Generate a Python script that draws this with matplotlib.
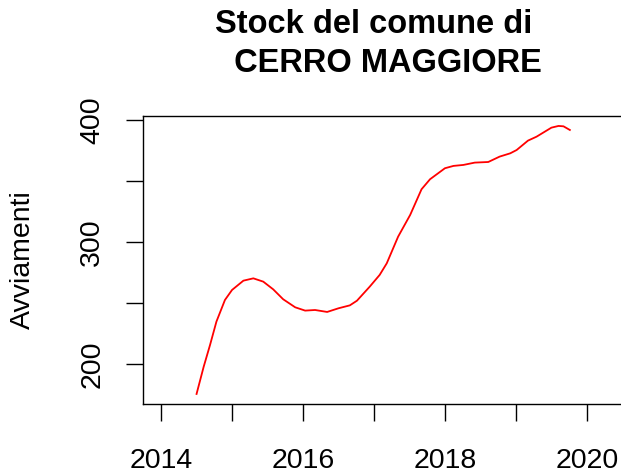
import matplotlib.pyplot as plt

plt.rcParams['font.family'] = ['Liberation Sans', 'DejaVu Sans']

# traced values (decimal year, stock)
anni = [2014.50, 2014.60, 2014.69, 2014.78, 2014.90, 2015.00, 2015.16, 2015.30,
        2015.44, 2015.58, 2015.72, 2015.89, 2016.03, 2016.17, 2016.34, 2016.50,
        2016.66, 2016.76, 2016.94, 2017.08, 2017.18, 2017.34, 2017.51, 2017.67,
        2017.79, 2018.00, 2018.12, 2018.26, 2018.42, 2018.61, 2018.77, 2018.92,
        2019.01, 2019.17, 2019.29, 2019.50, 2019.60, 2019.67, 2019.76]
stock = [175.8, 198.0, 215.9, 235.0, 252.7, 260.9, 268.5, 270.4,
         267.7, 261.4, 253.3, 246.7, 244.0, 244.5, 242.9, 245.9,
         248.3, 252.1, 263.6, 273.2, 282.7, 304.5, 322.3, 343.3,
         351.5, 360.5, 362.4, 363.2, 365.1, 365.6, 370.0, 372.7,
         375.4, 383.1, 386.3, 393.7, 395.1, 394.8, 391.8]

x_ticks = [2014, 2015, 2016, 2017, 2018, 2019, 2020]
x_labels = ['2014', '', '2016', '', '2018', '', '2020']
y_ticks = [200, 250, 300, 350, 400]
y_labels = ['200', '', '300', '', '400']

fig = plt.figure(figsize=(6.21, 4.71), dpi=100)
ax = fig.add_axes([0.2308, 0.1423, 0.80, 0.6121])

ax.plot(anni, stock, color='red', lw=1.3)

ax.set_xlim(2013.75, 2020.75)
ax.set_ylim(167.6, 403.5)

ax.set_xticks(x_ticks)
ax.set_xticklabels(x_labels)
ax.set_yticks(y_ticks)
ax.set_yticklabels(y_labels, rotation=90, va='center')

for s in ax.spines.values():
    s.set_linewidth(1.0)
ax.tick_params(axis='both', direction='out', length=12.5, width=1.0,
               labelsize=20.5, colors='black')
ax.tick_params(axis='x', pad=19)
ax.tick_params(axis='y', pad=15)

ax.set_ylabel('Avviamenti', fontsize=20.5)
ax.yaxis.set_label_coords(-0.216, 0.5)

fig.text(374 / 621, 1 - 33 / 471, 'Stock del comune di', ha='center',
         va='baseline', fontsize=23.5, fontweight='bold')
fig.text(383 / 621, 1 - 72 / 471, ' CERRO MAGGIORE', ha='center',
         va='baseline', fontsize=23.5, fontweight='bold')

fig.savefig('out.png', dpi=100)
